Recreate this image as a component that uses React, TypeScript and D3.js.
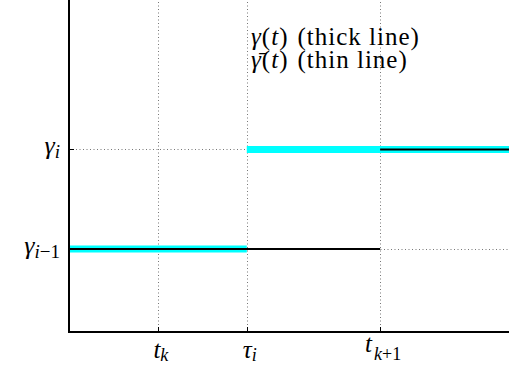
import * as d3 from 'd3';

// tick positions and labels (base letter + subscript)
const xTickValues = [1, 2, 3.5];
const xTickBase = ['t', 'τ', 't'];
const xTickSub = ['k', 'i', 'k+1'];

const yTickValues = [1, 2.2];
const yTickBase = ['γ', 'γ'];
const yTickSub = ['i−1', 'i'];

// piecewise constant signals: [start, end, level]
const thickSteps = [
  [0, 2, 1],
  [2, 5, 2.2],
];
const thinSteps = [
  [0, 3.5, 1],
  [3.5, 5, 2.2],
];

const legendSymbols = ['γ', 'γ\u0304'];
const legendTexts = ['(thick line)', '(thin line)'];

const W = 509;
const H = 368;
const margin = { left: 69, right: 0, top: 0, bottom: 36 };
const serif = "'Liberation Serif', 'Noto Serif', 'DejaVu Serif', 'Times New Roman'";

export default function App() {
  const x0 = margin.left;
  const x1 = W - margin.right;
  const y0 = H - margin.bottom;
  const y1 = margin.top;

  const x = d3.scaleLinear().domain([0, 4.95]).range([x0, x1]);
  const y = d3.scaleLinear().domain([0, 4]).range([y0, y1]);
  const px = (v: number) => Math.round(v) + 0.5;

  return (
    <div style={{ position: 'absolute', left: 0, top: 0, width: W, height: H, fontFamily: serif }}>
      <svg width={W} height={H} style={{ background: '#fff', fontFamily: serif }}>
        <style>{`text, tspan { font-family: ${serif}; }`}</style>

        {/* dotted grid */}
        <g stroke="#777" strokeWidth={1} strokeDasharray="1 2.5">
          {xTickValues.map((d) => (
            <line key={'gx' + d} x1={px(x(d))} x2={px(x(d))} y1={y0} y2={y1} />
          ))}
          {yTickValues.map((d) => (
            <line key={'gy' + d} x1={x0} x2={x1} y1={px(y(d))} y2={px(y(d))} />
          ))}
        </g>

        {/* thick cyan signal */}
        <g stroke="#00ffff" strokeWidth={7}>
          {thickSteps.map((d, i) => (
            <line key={i} x1={x(d[0])} x2={x(d[1])} y1={y(d[2])} y2={y(d[2])} />
          ))}
        </g>

        {/* thin black signal */}
        <g stroke="#000" strokeWidth={2}>
          {thinSteps.map((d, i) => (
            <line key={i} x1={x(d[0])} x2={x(d[1])} y1={y(d[2])} y2={y(d[2])} />
          ))}
        </g>

        {/* axes and ticks */}
        <g stroke="#000" fill="none">
          <line x1={x0} x2={x0} y1={y1} y2={y0 + 1} strokeWidth={2} />
          <line x1={x0 - 1} x2={x1} y1={y0} y2={y0} strokeWidth={2} />
          {xTickValues.map((d) => (
            <line key={'tx' + d} x1={px(x(d))} x2={px(x(d))} y1={y0} y2={y0 - 5} strokeWidth={1} />
          ))}
          {yTickValues.map((d) => (
            <line key={'ty' + d} x1={x0} x2={x0 + 5} y1={px(y(d))} y2={px(y(d))} strokeWidth={1} />
          ))}
        </g>

        {/* x tick labels */}
        {xTickValues.map((d, i) => {
          const long = xTickSub[i].length > 1;
          return (
            <text
              key={'lx' + d}
              x={x(d) + 3}
              y={long ? y0 + 20 : y0 + 26}
              textAnchor="middle"
              style={{ fontFamily: serif, fontSize: '25px' }}
            >
              <tspan style={{ fontStyle: 'italic' }}>{xTickBase[i]}</tspan>
              <tspan dx={long ? 2 : 0} dy={long ? 8 : 3} style={{ fontSize: '18px' }}>
                {long ? (
                  <>
                    <tspan style={{ fontStyle: 'italic' }}>k</tspan>+1
                  </>
                ) : (
                  <tspan style={{ fontStyle: 'italic' }}>{xTickSub[i]}</tspan>
                )}
              </tspan>
            </text>
          );
        })}

        {/* y tick labels */}
        {yTickValues.map((d, i) => (
          <text
            key={'ly' + d}
            x={x0 - 9}
            y={y(d) + 5}
            textAnchor="end"
            style={{ fontFamily: serif, fontSize: '26px' }}
          >
            <tspan style={{ fontStyle: 'italic' }}>{yTickBase[i]}</tspan>
            <tspan dy={4} style={{ fontSize: '19px' }}>
              {yTickSub[i].length > 1 ? (
                <>
                  <tspan style={{ fontStyle: 'italic' }}>i</tspan>−1
                </>
              ) : (
                <tspan style={{ fontStyle: 'italic' }}>{yTickSub[i]}</tspan>
              )}
            </tspan>
          </text>
        ))}

        {/* legend text, one text element per line */}
        {legendSymbols.map((s, i) => (
          <text
            key={'lg' + i}
            x={251}
            y={45 + i * 23}
            style={{ fontFamily: serif, fontSize: '25px', letterSpacing: '1px' }}
          >
            <tspan style={{ fontStyle: 'italic' }}>{s}</tspan>(<tspan style={{ fontStyle: 'italic' }}>t</tspan>)
            <tspan dx={9}>{legendTexts[i]}</tspan>
          </text>
        ))}
      </svg>
    </div>
  );
}
